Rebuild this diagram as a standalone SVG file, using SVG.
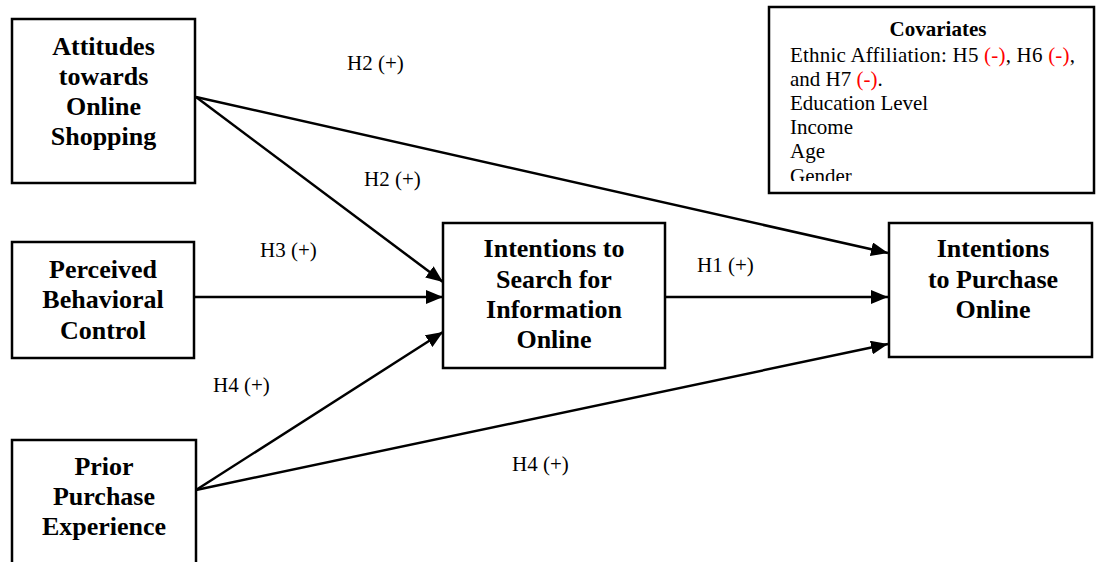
<svg xmlns="http://www.w3.org/2000/svg" width="1098" height="562" viewBox="0 0 1098 562">
<defs>
<marker id="arr" markerUnits="userSpaceOnUse" markerWidth="18" markerHeight="14" refX="17" refY="7" orient="auto">
<path d="M0,0 L17,7 L0,14 Z" fill="#000"/>
</marker>
<clipPath id="covclip"><rect x="770" y="8" width="322" height="173"/></clipPath>
</defs>
<style>
.box{fill:#fff;stroke:#000;stroke-width:2.5}
.nt{font-family:"Liberation Serif","Times New Roman",serif;font-weight:bold;font-size:26px;fill:#000;text-anchor:middle}
.lb{font-family:"Liberation Serif","Times New Roman",serif;font-size:21px;fill:#000}
.red{fill:#ff0000}
.ln{stroke:#000;stroke-width:2.5;fill:none;marker-end:url(#arr)}
</style>
<rect width="1098" height="562" fill="#fff"/>
<g id="connectors">
<line class="ln" x1="196" y1="97" x2="443" y2="282"/>
<line class="ln" x1="196" y1="97" x2="888" y2="253"/>
<line class="ln" x1="194" y1="297" x2="443" y2="297"/>
<line class="ln" x1="665" y1="297" x2="888" y2="297"/>
<line class="ln" x1="196" y1="490" x2="443" y2="332"/>
<line class="ln" x1="196" y1="490" x2="888" y2="344"/>
</g>
<g id="labels">
<text class="lb" x="347" y="70">H2 (+)</text>
<text class="lb" x="364" y="186">H2 (+)</text>
<text class="lb" x="260" y="257">H3 (+)</text>
<text class="lb" x="697" y="272">H1 (+)</text>
<text class="lb" x="213" y="392">H4 (+)</text>
<text class="lb" x="512" y="471">H4 (+)</text>
</g>
<g id="attitudes">
<rect class="box" x="12" y="19" width="183" height="164"/>
<text class="nt" x="103.5" y="55">Attitudes</text>
<text class="nt" x="103.5" y="85">towards</text>
<text class="nt" x="103.5" y="115">Online</text>
<text class="nt" x="103.5" y="145">Shopping</text>
</g>
<g id="perceived">
<rect class="box" x="12" y="242" width="182" height="116"/>
<text class="nt" x="103" y="278">Perceived</text>
<text class="nt" x="103" y="308">Behavioral</text>
<text class="nt" x="103" y="339">Control</text>
</g>
<g id="prior">
<rect class="box" x="12" y="440" width="184" height="140"/>
<text class="nt" x="104" y="475">Prior</text>
<text class="nt" x="104" y="505">Purchase</text>
<text class="nt" x="104" y="535">Experience</text>
</g>
<g id="search">
<rect class="box" x="443" y="223" width="222" height="145"/>
<text class="nt" x="554" y="257">Intentions to</text>
<text class="nt" x="554" y="288">Search for</text>
<text class="nt" x="554" y="318">Information</text>
<text class="nt" x="554" y="348">Online</text>
</g>
<g id="purchase">
<rect class="box" x="889" y="223" width="203" height="134"/>
<text class="nt" x="993" y="257">Intentions</text>
<text class="nt" x="993" y="288">to Purchase</text>
<text class="nt" x="993" y="318">Online</text>
</g>
<g id="covariates">
<rect class="box" x="769" y="7" width="325" height="186"/>
<g clip-path="url(#covclip)">
<text class="lb" x="938" y="36" text-anchor="middle" font-weight="bold">Covariates</text>
<text class="lb" x="790" y="62" textLength="285">Ethnic Affiliation: H5 <tspan class="red">(-)</tspan>, H6 <tspan class="red">(-)</tspan>,</text>
<text class="lb" x="790" y="86">and H7 <tspan class="red">(-)</tspan>.</text>
<text class="lb" x="790" y="110">Education Level</text>
<text class="lb" x="790" y="134">Income</text>
<text class="lb" x="790" y="158">Age</text>
<text class="lb" x="790" y="183">Gender</text>
</g>
</g>
</svg>
